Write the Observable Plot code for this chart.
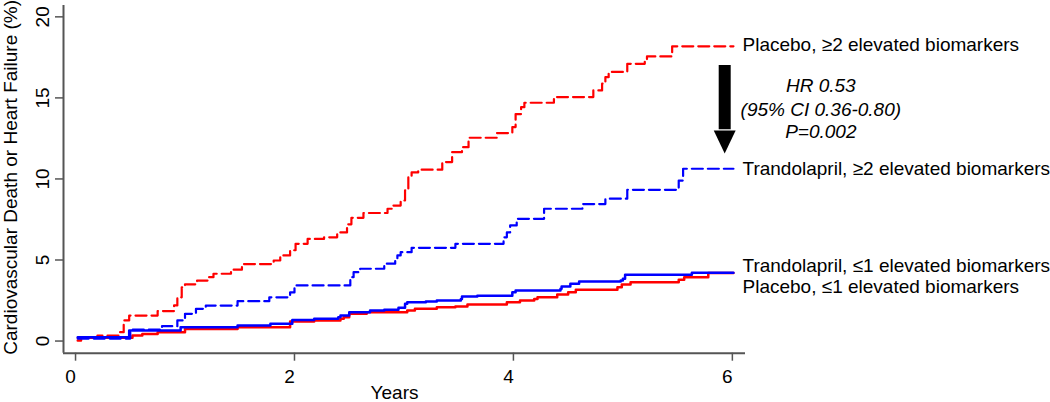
<!DOCTYPE html>
<html>
<head>
<meta charset="utf-8">
<script src="https://cdn.jsdelivr.net/npm/d3@7"></script>
<script src="https://cdn.jsdelivr.net/npm/@observablehq/plot@0.6"></script>
<style>
  body { margin: 0; background: #fff; }
  #chart svg { display: block; }
</style>
</head>
<body>
<div id="chart"></div>
<script>
// ---- Data ----
const seriesNames = [
  "Placebo, ≥2 elevated biomarkers",
  "Trandolapril, ≥2 elevated biomarkers",
  "Trandolapril, ≤1 elevated biomarkers",
  "Placebo, ≤1 elevated biomarkers"
];

// Placebo, >=2 elevated biomarkers (red dashed)
const placeboHighT = [0.02,0.2,0.4,0.44,0.49,0.75,0.9,0.93,0.97,1.0,1.11,1.22,1.26,1.42,1.52,1.81,1.87,1.96,2.01,2.12,2.27,2.39,2.48,2.52,2.63,2.85,2.89,2.97,3.01,3.04,3.07,3.13,3.35,3.44,3.53,3.59,3.85,3.99,4.02,4.07,4.1,4.37,4.73,4.81,4.84,4.87,5.04,5.2,5.22,5.45,6.01];
const placeboHighY = [0.2,0.34,0.55,1.27,1.57,1.85,2.2,2.7,3.32,3.5,3.73,3.94,4.15,4.4,4.75,4.97,5.28,5.6,6.0,6.3,6.4,6.7,7.2,7.6,7.9,8.16,8.36,8.67,9.3,10.1,10.4,10.57,11.04,11.65,11.96,12.54,12.83,13.2,14.0,14.43,14.7,15.05,15.46,15.88,16.28,16.6,17.1,17.36,17.56,18.18,18.18];

// Trandolapril, >=2 elevated biomarkers (blue dashed)
const trandoHighT = [0.02,0.5,0.79,0.93,1.0,1.1,1.19,1.48,1.77,1.96,2.0,2.51,2.54,2.6,2.82,2.92,2.94,2.97,3.07,3.47,3.91,3.94,3.97,4.03,4.28,4.63,4.84,5.04,5.51,5.55,6.01];
const trandoHighY = [0.15,0.7,0.92,1.27,1.68,1.99,2.19,2.46,2.7,3.0,3.43,3.94,4.25,4.46,4.77,4.97,5.28,5.48,5.75,6.0,6.4,6.7,7.13,7.54,8.16,8.45,8.78,9.33,9.9,10.63,10.63];

// Trandolapril, <=1 elevated biomarkers (blue solid)
const trandoLowT = [0.02,0.49,0.96,1.48,1.78,1.98,2.18,2.4,2.42,2.5,2.69,2.82,2.95,3.01,3.03,3.2,3.3,3.52,3.53,3.67,3.99,4.02,4.43,4.44,4.52,4.6,4.98,5.0,5.02,5.63,6.01];
const trandoLowY = [0.23,0.65,0.85,0.96,1.06,1.3,1.37,1.47,1.57,1.78,1.88,1.93,2.05,2.3,2.4,2.44,2.5,2.6,2.75,2.8,3.01,3.12,3.22,3.36,3.53,3.67,3.73,3.84,4.09,4.21,4.21];

// Placebo, <=1 elevated biomarkers (red solid)
const placeboLowT = [0.02,0.05,0.52,0.61,0.75,1.0,1.48,1.96,2.18,2.42,2.45,2.5,2.66,3.03,3.1,3.3,3.47,3.58,3.94,4.06,4.19,4.22,4.4,4.5,4.57,4.95,4.99,5.07,5.51,5.56,5.78,6.01];
const placeboLowY = [0.03,0.2,0.34,0.44,0.55,0.75,0.85,1.2,1.27,1.37,1.47,1.68,1.78,1.88,1.99,2.09,2.13,2.25,2.4,2.5,2.6,2.7,2.87,3.01,3.16,3.32,3.49,3.63,3.78,3.94,4.19,4.19];

const xTicks = [0, 2, 4, 6];
const yTicks = [0, 5, 10, 15, 20];
const xLabel = "Years";
const yLabel = "Cardiovascular Death or Heart Failure (%)";
const statLines = ["HR 0.53", "(95% CI 0.36-0.80)", "P=0.002"];

// ---- Layout / style ----
const xDomain = [-0.11, 6.12];
const yDomain = [-0.75, 20.7];
const RED = "#ff0000", BLUE = "#0000ff", AXIS = "#555";
const FS = 19;

function rows(ts, ys, name) { return ts.map((t, i) => ({t, v: ys[i], series: name})); }
const pHigh = rows(placeboHighT, placeboHighY, seriesNames[0]);
const tHigh = rows(trandoHighT, trandoHighY, seriesNames[1]);
const tLow  = rows(trandoLowT, trandoLowY, seriesNames[2]);
const pLow  = rows(placeboLowT, placeboLowY, seriesNames[3]);

// series end labels (placed next to each curve's end)
const labelRows = [
  {text: seriesNames[0], v: placeboHighY.at(-1) + 0.06},
  {text: seriesNames[1], v: trandoHighY.at(-1) + 0.02},
  {text: seriesNames[2], v: trandoLowY.at(-1) + 0.45},
  {text: seriesNames[3], v: placeboLowY.at(-1) - 0.87}
];

// arrow from the placebo (>=2) end down to the trandolapril (>=2) end
const arrowX = 5.93;
const arrowTop = placeboHighY.at(-1) - 1.18;
const arrowTip = trandoHighY.at(-1) + 0.94;
const headBase = arrowTip + 1.42;
const headHalf = 0.1;
const head = [
  {t: arrowX - headHalf, v: headBase},
  {t: arrowX + headHalf, v: headBase},
  {t: arrowX, v: arrowTip}
];
const statX = 6.808;
const statRows = statLines.map((s, i) => ({text: s, v: [15.73, 14.27, 12.89][i]}));

const chart = Plot.plot({
  width: 1050,
  height: 402,
  marginLeft: 63,
  marginRight: 305,
  marginTop: 5,
  marginBottom: 49.3,
  style: {fontFamily: "'Liberation Sans', Arial, Helvetica, sans-serif", fontSize: FS + "px", background: "#fff", color: "#000", overflow: "visible"},
  x: {domain: xDomain},
  y: {domain: yDomain},
  marks: [
    // axis lines
    Plot.ruleX([xDomain[0]], {stroke: AXIS, strokeWidth: 2}),
    Plot.ruleY([yDomain[0]], {stroke: AXIS, strokeWidth: 2}),
    Plot.axisX(xTicks, {tickSize: 8, tickFormat: () => "", stroke: AXIS, strokeWidth: 1.5, label: null}),
    Plot.axisY(yTicks, {tickSize: 8, tickFormat: () => "", stroke: AXIS, strokeWidth: 1.5, label: null}),
    // tick labels
    Plot.text(xTicks, {x: d => d, frameAnchor: "bottom", dy: 24, dx: -5, text: d => String(d), fill: "#000", fontSize: FS, textAnchor: "middle", lineAnchor: "middle"}),
    Plot.text(yTicks, {y: d => d, frameAnchor: "left", dx: -21, rotate: -90, text: d => String(d), fill: "#000", fontSize: FS, textAnchor: "middle", lineAnchor: "middle"}),
    // axis titles
    Plot.text([xLabel], {frameAnchor: "bottom", dx: -10, dy: 40, text: d => d, fill: "#000", fontSize: FS, textAnchor: "middle", lineAnchor: "middle"}),
    Plot.text([yLabel], {frameAnchor: "left", dx: -53, dy: -2, rotate: -90, text: d => d, fill: "#000", fontSize: FS, textAnchor: "middle", lineAnchor: "middle"}),
    // curves
    Plot.line(pLow, {x: "t", y: "v", curve: "step-after", stroke: RED, strokeWidth: 2.5}),
    Plot.line(pHigh, {x: "t", y: "v", curve: "step-after", stroke: RED, strokeWidth: 2.2, strokeDasharray: "11,5"}),
    Plot.line(tLow, {x: "t", y: "v", curve: "step-after", stroke: BLUE, strokeWidth: 2.5}),
    Plot.line(tHigh, {x: "t", y: "v", curve: "step-after", stroke: BLUE, strokeWidth: 2.2, strokeDasharray: "11,5"}),
    // end labels
    Plot.text(labelRows, {x: xDomain[1], y: "v", dx: -3, text: "text", textAnchor: "start", fill: "#000", fontSize: FS}),
    // arrow
    Plot.ruleX([arrowX], {x: d => d, y1: arrowTop, y2: headBase + 0.05, stroke: "#000", strokeWidth: 12}),
    Plot.line(head, {x: "t", y: "v", fill: "#000", stroke: "none"}),
    // statistics
    Plot.text(statRows, {x: statX, y: "v", text: "text", fontStyle: "italic", textAnchor: "middle", fill: "#000", fontSize: FS})
  ]
});
document.getElementById("chart").appendChild(chart);
</script>
</body>
</html>
